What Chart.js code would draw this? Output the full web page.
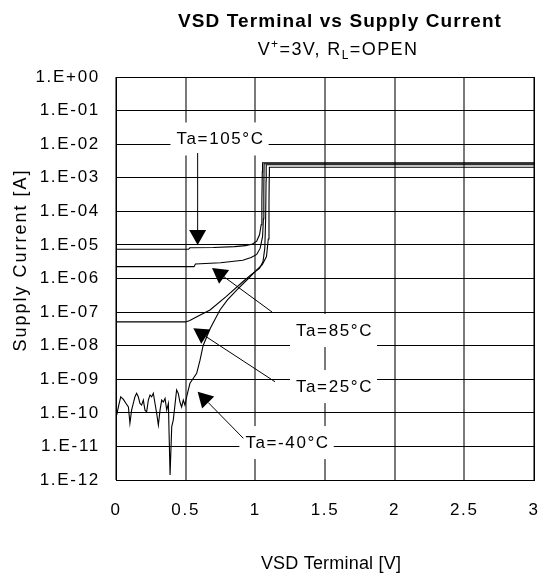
<!DOCTYPE html>
<html><head><meta charset="utf-8">
<script src="https://cdn.jsdelivr.net/npm/chart.js@4/dist/chart.umd.min.js"></script>
<style>html,body{margin:0;padding:0;background:#fff;overflow:hidden}</style>
</head><body>
<canvas id="c" width="549" height="576"></canvas>
<script>
// ---- data ----
const xTickValues = [0, 0.5, 1, 1.5, 2, 2.5, 3];
const xTickLabels = ['0', '0.5', '1', '1.5', '2', '2.5', '3'];
const yTickValues = [1e-12, 1e-11, 1e-10, 1e-9, 1e-8, 1e-7, 1e-6, 1e-5, 1e-4, 1e-3, 1e-2, 1e-1, 1];
const yTickLabels = ['1.E-12', '1.E-11', '1.E-10', '1.E-09', '1.E-08', '1.E-07', '1.E-06', '1.E-05', '1.E-04', '1.E-03', '1.E-02', '1.E-01', '1.E+00'];

const seriesNames = ['Ta=105°C', 'Ta=85°C', 'Ta=25°C', 'Ta=-40°C'];

const v105 = [0, 0.52, 0.53, 0.70, 0.85, 0.93, 0.98, 1.01, 1.03, 1.042, 1.047, 1.05, 1.052, 3];
const i105 = [7.4e-6, 7.4e-6, 8.2e-6, 8.4e-6, 8.9e-6, 9.5e-6, 1.07e-5, 1.3e-5, 2e-5, 4e-5, 2e-4, 1.5e-3, 2.8e-3, 2.8e-3];

const v85 = [0, 0.56, 0.57, 0.75, 0.91, 0.97, 1.01, 1.035, 1.052, 1.058, 1.061, 1.063, 3];
const i85 = [2.25e-6, 2.25e-6, 2.7e-6, 2.95e-6, 3.5e-6, 4.2e-6, 5.2e-6, 8e-6, 1.8e-5, 6e-5, 5e-4, 2.6e-3, 2.6e-3];

const v25 = [0, 0.50, 0.53, 0.58, 0.675, 0.79, 0.91, 0.97, 1.03, 1.055, 1.068, 1.074, 1.077, 1.078, 3];
const i25 = [5.1e-8, 5.1e-8, 5.6e-8, 7.3e-8, 1.15e-7, 2.9e-7, 8e-7, 1.3e-6, 2e-6, 3.2e-6, 8e-6, 6e-5, 8e-4, 2.45e-3, 2.45e-3];

const vM40 = [0.005, 0.017, 0.034, 0.053, 0.072, 0.089, 0.100, 0.112, 0.124, 0.136,
  0.148, 0.160, 0.172, 0.184, 0.196, 0.208, 0.220, 0.232, 0.244, 0.256,
  0.268, 0.280, 0.292, 0.304, 0.316, 0.328, 0.340, 0.352, 0.364, 0.376,
  0.388, 0.400, 0.411, 0.423, 0.435, 0.447, 0.459, 0.471, 0.483, 0.495,
  0.507, 0.519, 0.531, 0.555, 0.579, 0.603,
  0.625, 0.675, 0.746, 0.80, 0.866, 0.95, 1.01, 1.05, 1.08, 1.093,
  1.098, 1.10, 1.101, 3];
const iM40 = [8.6e-11, 1.5e-10, 3.0e-10, 2.5e-10, 1.9e-10, 1.5e-10, 4.9e-11, 1.2e-10, 1.9e-10, 3.0e-10,
  3.8e-10, 3.0e-10, 1.9e-10, 1.7e-10, 2.4e-10, 1.2e-10, 1.07e-10, 2.4e-10, 3.4e-10, 3.0e-10,
  3.8e-10, 1.9e-10, 9.6e-11, 4.3e-11, 1.2e-10, 2.4e-10, 2.1e-10, 2.7e-10, 1.2e-10, 1.9e-10,
  1.4e-12, 3.9e-11, 6.1e-11, 1.7e-10, 4.8e-10, 3.8e-10, 2.1e-10, 1.5e-10, 2.4e-10, 1.7e-10,
  3.0e-10, 4.8e-10, 7.6e-10, 1.07e-9, 1.5e-9, 3.7e-9,
  1e-8, 3.2e-8, 1.15e-7, 2.3e-7, 4.5e-7, 1e-6, 1.8e-6, 2.6e-6, 4.5e-6, 1.5e-5,
  2e-4, 1.2e-3, 2.05e-3, 2.05e-3];

// annotation anchors in data units (V, A)
const labelText = ['Ta=105°C', 'Ta=85°C', 'Ta=25°C', 'Ta=-40°C'];
const labelAt = [[0.743, 10 ** -1.83], [1.561, 10 ** -7.534], [1.561, 10 ** -9.202], [1.224, 10 ** -10.87]];
const arrowFrom = [[0.586, 10 ** -2.263], [1.120, 10 ** -6.998], [1.141, 10 ** -9.074], [0.914, 10 ** -10.759]];
const arrowTo = [[0.586, 10 ** -5.003], [0.689, 10 ** -5.688], [0.555, 10 ** -7.484], [0.586, 10 ** -9.372]];

// ---- build ----
const FONT = "'Liberation Sans', Arial, Helvetica, sans-serif";
function pts(xs, ys) { return xs.map((x, i) => ({ x: x, y: ys[i] })); }
const seriesX = [v105, v85, v25, vM40];
const seriesY = [i105, i85, i25, iM40];
const datasets = seriesNames.map((n, k) => ({
  label: n, data: pts(seriesX[k], seriesY[k]),
  borderColor: '#000', borderWidth: 1.1, pointRadius: 0, tension: 0, fill: false
}));

const decor = {
  id: 'decor',
  beforeDraw(chart) {
    const ctx = chart.ctx;
    ctx.save();
    ctx.fillStyle = '#fff';
    ctx.fillRect(0, 0, chart.width, chart.height);
    ctx.restore();
    ctx.letterSpacing = '1.7px';
  },
  afterDatasetsDraw(chart) {
    const ctx = chart.ctx, xs = chart.scales.x, ys = chart.scales.y;
    const P = (p) => [xs.getPixelForValue(p[0]), ys.getPixelForValue(p[1])];
    ctx.save();
    ctx.font = '17px ' + FONT;
    ctx.letterSpacing = '1.6px';
    // boxes
    labelText.forEach((t, k) => {
      const [cx, cy] = P(labelAt[k]);
      const w = ctx.measureText(t).width + 10;
      ctx.fillStyle = '#fff';
      ctx.fillRect(cx - w / 2, cy - 16, w, 33);
    });
    // arrows
    ctx.strokeStyle = '#000'; ctx.fillStyle = '#000'; ctx.lineWidth = 1;
    arrowFrom.forEach((f, k) => {
      const [x1, y1] = P(f), [x2, y2] = P(arrowTo[k]);
      const a = Math.atan2(y2 - y1, x2 - x1), L = 15, H = 8.5;
      const bx = x2 - L * Math.cos(a), by = y2 - L * Math.sin(a);
      ctx.beginPath(); ctx.moveTo(x1, y1); ctx.lineTo(bx, by); ctx.stroke();
      ctx.beginPath();
      ctx.moveTo(x2, y2);
      ctx.lineTo(bx + H * Math.sin(a), by - H * Math.cos(a));
      ctx.lineTo(bx - H * Math.sin(a), by + H * Math.cos(a));
      ctx.closePath(); ctx.fill();
    });
    // texts
    ctx.textAlign = 'center'; ctx.textBaseline = 'middle'; ctx.fillStyle = '#000';
    labelText.forEach((t, k) => {
      const [cx, cy] = P(labelAt[k]);
      ctx.fillText(t, cx + 1, cy + 1);
    });
    // frame
    const ca = chart.chartArea;
    ctx.strokeStyle = '#000'; ctx.lineWidth = 1;
    ctx.strokeRect(Math.round(ca.left) + 0.5, Math.round(ca.top) + 0.5, Math.round(ca.right - ca.left), Math.round(ca.bottom - ca.top));
    ctx.restore();
  },
  afterDraw(chart) {
    const ctx = chart.ctx;
    ctx.save();
    ctx.fillStyle = '#000';
    // main title
    ctx.font = 'bold 19px ' + FONT;
    ctx.letterSpacing = '1.1px';
    ctx.textAlign = 'center'; ctx.textBaseline = 'alphabetic';
    ctx.fillText('VSD Terminal vs Supply Current', 340, 27);
    // subtitle with super/subscripts
    ctx.letterSpacing = '1.4px';
    ctx.textAlign = 'left';
    const big = '18px ' + FONT, small = '12px ' + FONT;
    const parts = [['V', big, 0], ['+', small, -7], ['=3V, R', big, 0], ['L', small, 4], ['=OPEN', big, 0]];
    let tw = 0;
    parts.forEach(p => { ctx.font = p[1]; tw += ctx.measureText(p[0]).width; });
    let x = 338 - tw / 2;
    parts.forEach(p => { ctx.font = p[1]; ctx.fillText(p[0], x, 55 + p[2]); x += ctx.measureText(p[0]).width; });
    // axis titles
    ctx.font = '18px ' + FONT;
    ctx.textAlign = 'center'; ctx.textBaseline = 'middle';
    ctx.letterSpacing = '0.2px';
    ctx.fillText('VSD Terminal [V]', 331, 564);
    ctx.save();
    ctx.translate(21, 260);
    ctx.rotate(-Math.PI / 2);
    ctx.letterSpacing = '2px';
    ctx.fillText('Supply Current [A]', 0, 0);
    ctx.restore();
    ctx.restore();
  }
};

new Chart(document.getElementById('c'), {
  type: 'line',
  data: { datasets },
  options: {
    responsive: false, animation: false, devicePixelRatio: 1,
    layout: { padding: { left: 0, right: 15, top: 77, bottom: 0 } },
    plugins: { legend: { display: false }, title: { display: false }, tooltip: { enabled: false } },
    scales: {
      x: {
        type: 'linear', min: 0, max: 3,
        afterBuildTicks: s => { s.ticks = xTickValues.map(v => ({ value: v })); },
        afterFit: s => { s.height = 96; s.paddingLeft = 0; s.paddingRight = 0; },
        ticks: { callback: (v, i) => xTickLabels[i], color: '#000', padding: 20, font: { family: FONT, size: 17 }, maxRotation: 0 },
        grid: { color: '#7a7a7a', lineWidth: 2, drawTicks: false },
        border: { display: true, color: '#000', width: 1 },
        title: { display: false }
      },
      y: {
        type: 'logarithmic', min: 1e-12, max: 1,
        afterBuildTicks: s => { s.ticks = yTickValues.map(v => ({ value: v })); },
        afterFit: s => { s.width = 116; s.paddingTop = 0; s.paddingBottom = 0; },
        ticks: { callback: (v, i) => yTickLabels[i], color: '#000', padding: 16, font: { family: FONT, size: 17 }, autoSkip: false },
        grid: { color: '#000', lineWidth: 1, drawTicks: false },
        border: { display: true, color: '#000', width: 1 },
        title: { display: false }
      }
    }
  },
  plugins: [decor]
});
</script>
</body></html>
